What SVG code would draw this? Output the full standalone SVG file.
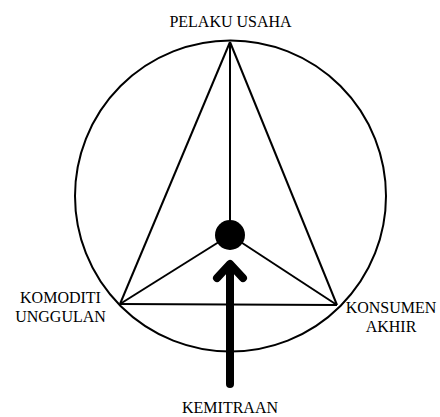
<svg xmlns="http://www.w3.org/2000/svg" width="440" height="417" viewBox="0 0 440 417">
<style>
text{font-family:'Liberation Serif','Times New Roman',Times,serif;font-size:16px;fill:#000;text-anchor:middle}
.l{stroke:#000;stroke-width:2;fill:none}
</style>
<rect width="440" height="417" fill="#fff"/>
<g id="circle"><circle cx="230.5" cy="196" r="155.5" class="l"/></g>
<g id="connectors">
<line x1="230" y1="42" x2="120" y2="304" class="l"/>
<line x1="230" y1="42" x2="337" y2="305" class="l"/>
<line x1="120" y1="304" x2="337" y2="305" class="l"/>
<line x1="230" y1="42" x2="230" y2="235" class="l"/>
<line x1="120" y1="304" x2="230" y2="235" class="l"/>
<line x1="337" y1="305" x2="230" y2="235" class="l"/>
<line x1="230" y1="384" x2="230" y2="266" stroke="#000" stroke-width="8" stroke-linecap="round"/>
<polyline points="217,278 230,264 243,278" fill="none" stroke="#000" stroke-width="8" stroke-linecap="round" stroke-linejoin="round"/>
</g>
<g id="center"><circle cx="230" cy="235" r="15" fill="#000"/></g>
<g id="pelaku"><text x="230.5" y="27" font-family="Liberation Serif, serif">PELAKU USAHA</text></g>
<g id="komoditi"><text x="60.5" y="303" font-family="Liberation Serif, serif">KOMODITI</text><text x="60.5" y="322" font-family="Liberation Serif, serif">UNGGULAN</text></g>
<g id="konsumen"><text x="391" y="313" font-family="Liberation Serif, serif">KONSUMEN</text><text x="391" y="332" font-family="Liberation Serif, serif">AKHIR</text></g>
<g id="kemitraan"><text x="230" y="413" font-family="Liberation Serif, serif">KEMITRAAN</text></g>
</svg>
